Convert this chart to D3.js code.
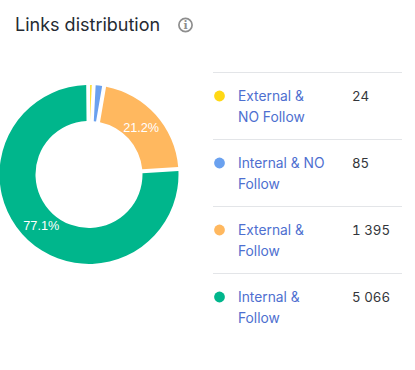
<!DOCTYPE html>
<html>
<head>
<meta charset="utf-8">
<script src="https://cdn.jsdelivr.net/npm/d3@7"></script>
<style>
  html, body { margin: 0; padding: 0; background: #fff; }
  text { font-family: Inter, "Noto Sans", sans-serif; }
</style>
</head>
<body>
<script>
const categories = ["External & NO Follow", "Internal & NO Follow", "External & Follow", "Internal & Follow"];
const labelLines = [["External &", "NO Follow"], ["Internal & NO", "Follow"], ["External &", "Follow"], ["Internal &", "Follow"]];
const values = [24, 85, 1395, 5066];
const valueLabels = ["24", "85", "1 395", "5 066"];
const percentLabels = ["", "", "21.2%", "77.1%"];
const colors = ["#ffd814", "#6aa1ef", "#ffb85f", "#00b68c"];

const svg = d3.select("body").append("svg")
   .attr("width", 415)
   .attr("height", 370)
   .style("display", "block");

//Title
svg.append("text")
   .attr("x", 15)
   .attr("y", 31)
   .style("font-size", "18px")
   .style("fill", "#252a32")
   .text("Links distribution");

//info icon
const info = svg.append("g").attr("transform", "translate(185.5,25)");
info.append("circle")
   .attr("r", 6.6)
   .style("fill", "none")
   .style("stroke", "#8e8e8e")
   .style("stroke-width", 1.7);
info.append("text")
   .attr("text-anchor", "middle")
   .attr("y", 4)
   .style("font-size", "11px")
   .style("font-weight", "700")
   .style("font-family", "'DejaVu Serif', serif")
   .style("fill", "#8e8e8e")
   .text("i");

//Donut
const deg = Math.PI / 180;
const padAngle = 2.2 * deg;
const pie = d3.pie().sort(null).value(d => d)
   .padAngle(padAngle)
   .startAngle(-0.5 * deg)
   .endAngle(359.5 * deg);
const arc = d3.arc().innerRadius(53.5).outerRadius(89.5).padRadius(4 / padAngle);
const labelArc = d3.arc().innerRadius(70).outerRadius(70);
const donut = svg.append("g").attr("transform", "translate(89,174.5)");

donut.selectAll("path")
   .data(pie(values))
   .enter()
   .append("path")
   .attr("d", arc)
   .style("fill", (d, i) => colors[i]);

donut.selectAll("text")
   .data(pie(values))
   .enter()
   .append("text")
   .attr("transform", d => "translate(" + labelArc.centroid(d) + ")")
   .attr("text-anchor", "middle")
   .attr("dy", "0.35em")
   .style("font-size", "12.7px")
   .style("font-family", "'Liberation Sans', sans-serif")
   .style("fill", "#fff")
   .text((d, i) => percentLabels[i]);

//Legend table
const rowY = d3.scalePoint().domain(categories).range([72, 273]);

const rows = svg.selectAll("g.row")
   .data(categories)
   .enter()
   .append("g")
   .attr("class", "row")
   .attr("transform", d => "translate(0," + rowY(d) + ")");

rows.append("line")
   .attr("x1", 213)
   .attr("x2", 402)
   .attr("y1", 0.5)
   .attr("y2", 0.5)
   .style("stroke", "#e3e5e8");

rows.append("circle")
   .attr("cx", 219.5)
   .attr("cy", 24)
   .attr("r", 5.4)
   .style("fill", (d, i) => colors[i]);

rows.append("text")
   .attr("x", 238)
   .attr("y", 29)
   .style("font-size", "13.8px")
   .style("fill", "#4e6fd0")
   .selectAll("tspan")
   .data((d, i) => labelLines[i])
   .enter()
   .append("tspan")
   .attr("x", 238)
   .attr("dy", (d, i) => i ? 21 : 0)
   .text(d => d);

rows.append("text")
   .attr("x", 352)
   .attr("y", 29)
   .style("font-size", "13.3px")
   .style("font-variant-numeric", "tabular-nums")
   .style("fill", "#33363b")
   .text((d, i) => valueLabels[i]);
</script>
</body>
</html>
